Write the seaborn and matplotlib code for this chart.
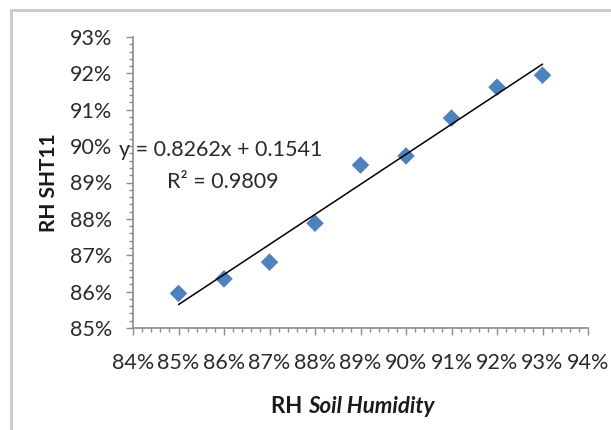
import matplotlib
matplotlib.use("Agg")
import matplotlib.pyplot as plt
from matplotlib.ticker import MultipleLocator, FuncFormatter
from matplotlib.patches import Rectangle
import seaborn as sns
import pandas as pd

# Data (percent)
soil_humidity = [85, 86, 87, 88, 89, 90, 91, 92, 93]
rh_sht11 = [85.95, 86.35, 86.81, 87.88, 89.48, 89.73, 90.77, 91.62, 91.95]
equation_text = "y = 0.8262x + 0.1541"
r2_text = "R² = 0.9809"
x_label_plain = "RH "
x_label_italic = "Soil Humidity"
y_label = "RH SHT11"

df = pd.DataFrame({"x": soil_humidity, "y": rh_sht11})

sns.set_style("ticks")
plt.rcParams["font.family"] = ["Lato", "DejaVu Sans"]

fig = plt.figure(figsize=(6.11, 4.30), dpi=100)
ax = fig.add_axes([133 / 611, 1 - 328 / 430, (588 - 133) / 611, (328 - 37) / 430])

sns.regplot(data=df, x="x", y="y", ax=ax, ci=None, truncate=True, marker="D",
            scatter_kws=dict(color="#4F81BD", s=80, edgecolors="none", alpha=1),
            line_kws=dict(color="black", lw=1.1))

ax.set_xlim(84, 94)
ax.set_ylim(85, 93)
ax.xaxis.set_major_locator(MultipleLocator(1))
ax.xaxis.set_minor_locator(MultipleLocator(0.2))
ax.yaxis.set_major_locator(MultipleLocator(1))
ax.yaxis.set_minor_locator(MultipleLocator(0.2))
fmt = FuncFormatter(lambda v, p: f"{v:.0f}%")
ax.xaxis.set_major_formatter(fmt)
ax.yaxis.set_major_formatter(fmt)

spine_col = "#8c8c8c"
for s in ["top", "right"]:
    ax.spines[s].set_visible(False)
for s in ["left", "bottom"]:
    ax.spines[s].set_color(spine_col)
    ax.spines[s].set_linewidth(1.2)
ax.tick_params(which="major", length=5, width=1, color=spine_col, direction="out",
               labelsize=15.5, labelcolor="#2a2a2a")
ax.tick_params(axis="y", which="major", pad=10)
ax.tick_params(axis="x", which="major", pad=13)
ax.tick_params(which="minor", length=3, width=1, color=spine_col, direction="out")

ax.set_xlabel("")
ax.set_ylabel(y_label, fontsize=15, fontweight="bold", color="#1a1a1a")
ax.yaxis.set_label_coords(-(133 - 59) / 455, 0.5)

ax.text(83.69, 89.89, equation_text, fontsize=15.5, color="#2a2a2a", ha="left", va="center")
ax.text(85.97, 89.01, r2_text, fontsize=15.5, color="#2a2a2a", ha="center", va="center")

t1 = fig.text(271 / 611, 1 - 413 / 430, x_label_plain, fontsize=16, fontweight="bold",
              color="#1a1a1a", ha="left", va="baseline")
ax.annotate(x_label_italic, xy=(1, 0), xycoords=t1, fontsize=16, fontweight="bold",
            style="italic", color="#1a1a1a", ha="left", va="bottom",
            annotation_clip=False)

fig.add_artist(Rectangle((11 / 611, -0.1), 1.2, 1 - 10 / 430 + 0.1, transform=fig.transFigure,
                         fill=False, edgecolor="#cccccc", lw=2.2))

fig.savefig("out.png", dpi=100)
